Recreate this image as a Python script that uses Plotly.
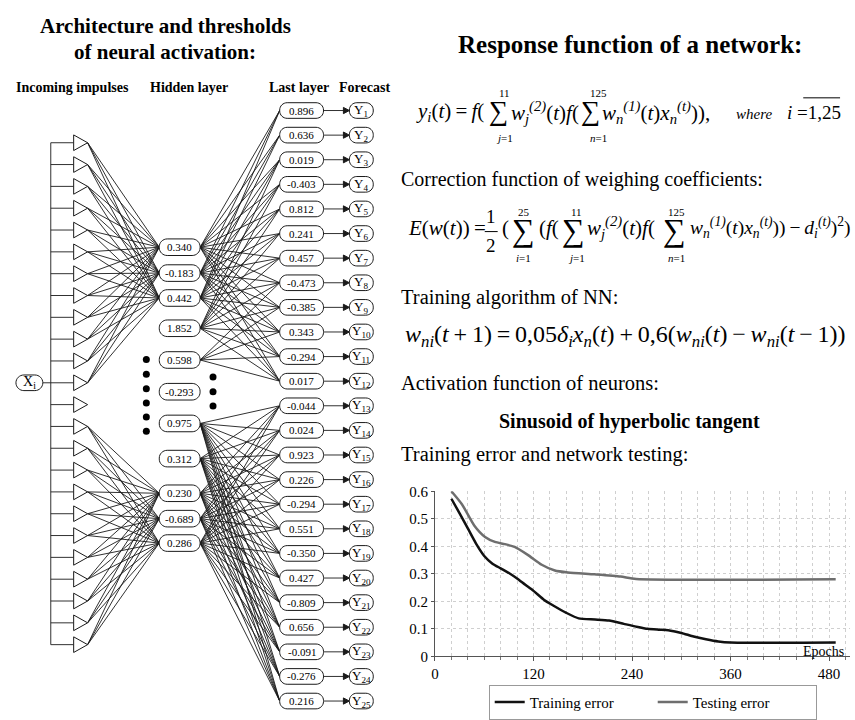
import plotly.graph_objects as go

W, H = 855, 720
FONT = "Liberation Serif, Times New Roman, Times, serif"
INK = "#1a1a1a"

# ---------------- data ----------------
# Activation thresholds of the hidden layer, top to bottom
hidden_thresholds = [0.340, -0.183, 0.442, 1.852, 0.598, -0.293, 0.975, 0.312, 0.230, -0.689, 0.286]
# Activation thresholds of the last layer, one per forecast output Y1..Y25
output_thresholds = [0.896, 0.636, 0.019, -0.403, 0.812, 0.241, 0.457, -0.473, -0.385, 0.343,
                     -0.294, 0.017, -0.044, 0.024, 0.923, 0.226, -0.294, 0.551, -0.350, 0.427,
                     -0.809, 0.656, -0.091, -0.276, 0.216]
forecast_labels = [f"Y<sub>{i}</sub>" for i in range(1, 26)]

# Training / testing error by epoch
train_epochs = [20, 30, 40, 50, 60, 70, 80, 90, 100, 110, 120, 133, 145, 160, 175, 195, 212, 230,
                245, 259, 272, 284, 300, 315, 330, 345, 360, 488]
train_error = [0.573, 0.52, 0.465, 0.41, 0.365, 0.337, 0.32, 0.303, 0.283, 0.26, 0.238, 0.205,
               0.183, 0.158, 0.138, 0.134, 0.13, 0.118, 0.108, 0.1, 0.097, 0.095, 0.085, 0.072,
               0.062, 0.054, 0.05, 0.05]
test_epochs = [20, 33, 48, 61, 73, 85, 97, 113, 130, 146, 162, 194, 226, 245, 488]
test_error = [0.6, 0.552, 0.475, 0.434, 0.416, 0.408, 0.398, 0.369, 0.333, 0.312, 0.305, 0.298,
              0.29, 0.281, 0.28]

x_ticks = [0, 120, 240, 360, 480]
y_ticks = [0, 0.1, 0.2, 0.3, 0.4, 0.5, 0.6]

# ---------------- diagram layout (pixel-like canvas on x2/y2) ----------------
N_INPUTS, IN_Y0, IN_STEP = 24, 138, 22.35
BUS_X, STUB_X, TRI_TIP, TRI_HALF = 47, 70, 84, 8
XI_ROW, EMPTY_ROW = 11, 12
HID_X, HID_W, HID_H = 176.5, 41, 17
hidden_y = [245, 271.5, 297, 328, 360.5, 393, 425.5, 461.5, 497, 523, 548]
OUT_X, OUT_W, OUT_H = 299, 44, 16
OUT_Y0, OUT_STEP = 105, 25.2
FC_X, FC_W, FC_H = 359, 24, 16

in_y = [IN_Y0 + IN_STEP * k for k in range(N_INPUTS)]
out_y = [OUT_Y0 + OUT_STEP * k for k in range(len(output_thresholds))]

# which inputs feed which hidden neurons, and hidden -> last layer links
in_links = {k: [0, 1, 2] for k in range(0, 12)}
in_links.update({k: [8, 9, 10] for k in range(13, N_INPUTS)})
hid_links = {0: range(0, 12), 1: range(0, 12), 2: range(0, 12), 3: range(2, 12),
             4: range(7, 12), 6: range(12, 25), 7: range(12, 25),
             8: range(12, 25), 9: range(12, 25), 10: range(12, 25)}


def rounded(cx, cy, w, h, r=None):
    r = h / 2 if r is None else r
    x0, x1, y0, y1 = cx - w / 2, cx + w / 2, cy - h / 2, cy + h / 2
    k = 0.5523 * r
    return (f"M{x0 + r},{y0} L{x1 - r},{y0} C{x1 - r + k},{y0} {x1},{y0 + r - k} {x1},{y0 + r} "
            f"L{x1},{y1 - r} C{x1},{y1 - r + k} {x1 - r + k},{y1} {x1 - r},{y1} "
            f"L{x0 + r},{y1} C{x0 + r - k},{y1} {x0},{y1 - r + k} {x0},{y1 - r} "
            f"L{x0},{y0 + r} C{x0},{y0 + r - k} {x0 + r - k},{y0} {x0 + r},{y0} Z")


fig = go.Figure()

# wiring
lx, ly = [], []
for k, targets in in_links.items():
    for j in targets:
        lx += [TRI_TIP, HID_X - HID_W / 2, None]
        ly += [in_y[k], hidden_y[j], None]
for j, targets in hid_links.items():
    for i in targets:
        lx += [HID_X + HID_W / 2, OUT_X - OUT_W / 2, None]
        ly += [hidden_y[j], out_y[i], None]
# input bus and stubs
lx += [BUS_X, BUS_X, None]
ly += [in_y[0], in_y[-1], None]
for y in in_y:
    lx += [BUS_X, STUB_X, None]
    ly += [y, y, None]
lx += [39, BUS_X, None]
ly += [in_y[XI_ROW], in_y[XI_ROW], None]
# arrows from the last layer to the forecasts
for y in out_y:
    lx += [OUT_X + OUT_W / 2, FC_X - FC_W / 2 - 5, None]
    ly += [y, y, None]
fig.add_trace(go.Scatter(x=lx, y=ly, mode="lines", line=dict(color=INK, width=0.9),
                         xaxis="x2", yaxis="y2", showlegend=False, hoverinfo="skip"))

# ellipsis dots
fig.add_trace(go.Scatter(x=[143] * 6 + [210] * 3,
                         y=[360, 375, 390, 404.5, 419, 433.5, 378, 393, 407.5],
                         mode="markers", marker=dict(color="black", size=7),
                         xaxis="x2", yaxis="y2", showlegend=False, hoverinfo="skip"))

shapes = []
annotations = []


def shape_path(p, fill="white"):
    shapes.append(dict(type="path", path=p, xref="x2", yref="y2", layer="above",
                       line=dict(color=INK, width=1), fillcolor=fill))


def put(x, y, text, size, anchor="left"):
    annotations.append(dict(x=x, y=y, xref="x2", yref="y2", text=text, showarrow=False,
                            xanchor=anchor, yanchor="middle",
                            font=dict(family=FONT, size=size, color="black")))


def sigma(cx, cy, size, lim_x, top, top_y, bottom, bottom_y):
    # summation sign with its limits above and below
    put(cx, cy, "∑", size, "center")
    put(lim_x, top_y, top, 11, "center")
    put(lim_x, bottom_y, bottom, 11, "center")


# triangles
for y in in_y:
    shape_path(f"M{STUB_X},{y - TRI_HALF} L{TRI_TIP},{y} L{STUB_X},{y + TRI_HALF} Z")
# input node
shape_path(rounded(25.5, in_y[XI_ROW], 27, 16))
put(25.5, in_y[XI_ROW], "X<sub>i</sub>", 14, "center")
# hidden layer
for v, y in zip(hidden_thresholds, hidden_y):
    shape_path(rounded(HID_X, y, HID_W, HID_H, 8))
    put(HID_X, y, f"{v:.3f}", 11, "center")
# last layer + forecasts
tip = FC_X - FC_W / 2
for v, y, lab in zip(output_thresholds, out_y, forecast_labels):
    shape_path(rounded(OUT_X, y, OUT_W, OUT_H, 7.5))
    put(OUT_X, y, f"{v:.3f}", 11, "center")
    shape_path(rounded(FC_X, y, FC_W, FC_H, 7.5))
    put(FC_X, y, lab, 13, "center")
    shape_path(f"M{tip - 6},{y - 3.2} L{tip},{y} L{tip - 6},{y + 3.2} Z", fill=INK)

# headings
put(162, 18, "<b>Architecture and thresholds</b>", 21, "center")
put(162, 45, "<b>of neural activation:</b>", 21, "center")
put(69, 81, "<b>Incoming impulses</b>", 14, "center")
put(186, 81, "<b>Hidden layer</b>", 14, "center")
put(296, 81, "<b>Last layer</b>", 14, "center")
put(362, 81, "<b>Forecast</b>", 14, "center")
put(629, 37, "<b>Response function of a network:</b>", 25, "center")

TS = "\u2009"  # thin space around operators
# response function
put(412, 107, f"<i>y<sub>i</sub></i>(<i>t</i>){TS}={TS}<i>f</i>(", 21)
sigma(497, 105, 27, 503, "11", 87, "<i>j</i>=1", 133)
put(507, 107, "<i>w<sub>j</sub><sup>(2)</sup></i>(<i>t</i>)<i>f</i>(", 21)
sigma(589, 105, 27, 597, "125", 87, "<i>n</i>=1", 133)
put(599, 107, "<i>w<sub>n</sub><sup>(1)</sup></i>(<i>t</i>)<i>x<sub>n</sub><sup>(<i>t</i>)</sup></i>)),", 21)
put(733, 109, "<i>where</i>", 15)
put(785, 107, "<i>i</i> =1,25", 19)
shapes.append(dict(type="line", x0=803, x1=840, y0=92, y1=92, xref="x2", yref="y2",
                   line=dict(color="black", width=1)))

put(397, 176, "Correction function of weighing coefficients:", 20)

# correction function
put(404, 225, f"<i>E</i>(<i>w</i>(<i>t</i>)){TS}=", 21)
put(489, 214, "1", 19, "center")
put(489, 243, "2", 19, "center")
shapes.append(dict(type="line", x0=483, x1=496, y0=229, y1=229, xref="x2", yref="y2",
                   line=dict(color="black", width=1)))
put(498, 225, "(", 21)
sigma(522, 227, 32, 522, "25", 209, "<i>i</i>=1", 256)
put(535, 225, "(<i>f</i>(", 21)
sigma(572, 227, 32, 575, "11", 209, "<i>j</i>=1", 256)
put(584, 225, "<i>w<sub>j</sub><sup>(2)</sup></i>(<i>t</i>)<i>f</i>(", 21)
sigma(674, 227, 32, 676, "125", 209, "<i>n</i>=1", 256)
put(687, 225, "<i>w<sub>n</sub><sup>(1)</sup></i>(<i>t</i>)<i>x<sub>n</sub><sup>(<i>t</i>)</sup></i>))"
              f"{TS}−{TS}<i>d<sub>i</sub><sup>(<i>t</i>)</sup></i>)<sup>2</sup>)", 19.5)

put(397, 296, "Training algorithm of NN:", 20.5)
put(401, 336, f"<i>w<sub>ni</sub></i>(<i>t</i>{TS}+{TS}1){TS}={TS}0,05<i>δ<sub>i</sub>x<sub>n</sub></i>(<i>t</i>)"
              f"{TS}+{TS}0,6(<i>w<sub>ni</sub></i>(<i>t</i>){TS}−{TS}<i>w<sub>ni</sub></i>(<i>t</i>{TS}−{TS}1))", 24)
put(397, 384, "Activation function of neurons:", 20.5)
put(628, 423, "<b>Sinusoid of hyperbolic tangent</b>", 20, "center")
put(397, 457, "Training error and network testing:", 20.5)
put(823, 659, "Epochs", 14, "center")

# ---------------- error chart ----------------
fig.add_trace(go.Scatter(x=train_epochs, y=train_error, mode="lines", name="Training error",
                         line=dict(color="#111111", width=2.5, shape="spline", smoothing=0.6)))
fig.add_trace(go.Scatter(x=test_epochs, y=test_error, mode="lines", name="Testing error",
                         line=dict(color="#6e6e6e", width=2.5, shape="spline", smoothing=0.6)))

PX_PER_EPOCH = 0.825
fig.update_layout(
    width=W, height=H, margin=dict(l=0, r=0, t=0, b=0),
    paper_bgcolor="white", plot_bgcolor="rgba(0,0,0,0)",
    font=dict(family=FONT, color="black"),
    shapes=shapes, annotations=annotations,
    xaxis=dict(domain=[433 / W, 850 / W], range=[0, (850 - 433) / PX_PER_EPOCH],
               tickvals=x_ticks, ticks="outside", ticklen=4, tickcolor="#555",
               showline=True, linecolor="#555", linewidth=1,
               showgrid=True, gridcolor="#cfcfcf", griddash="dot", gridwidth=1,
               minor=dict(dtick=20, tick0=0, showgrid=True, gridcolor="#cfcfcf", griddash="dot",
                          ticks="outside", ticklen=3, tickcolor="#777"),
               tickfont=dict(size=15, family=FONT), zeroline=False, anchor="y"),
    yaxis=dict(domain=[(H - 664) / H, (H - 495) / H], range=[0, 0.6],
               tickvals=y_ticks, ticktext=["0", "0.1", "0.2", "0.3", "0.4", "0.5", "0.6"],
               ticks="outside", ticklen=3, tickcolor="#555",
               showline=True, linecolor="#555", linewidth=1,
               showgrid=True, gridcolor="#cfcfcf", griddash="dot",
               tickfont=dict(size=15, family=FONT), zeroline=False, anchor="x"),
    xaxis2=dict(domain=[0, 1], range=[0, W], visible=False, anchor="y2"),
    yaxis2=dict(domain=[0, 1], range=[H, 0], visible=False, anchor="x2"),
    legend=dict(orientation="h", x=487 / W, xanchor="left", y=-9 / H, yanchor="bottom",
                bordercolor="#999", borderwidth=1, font=dict(size=15, family=FONT),
                entrywidth=118, entrywidthmode="pixels", bgcolor="white"),
    showlegend=True,
)

fig.write_html("out.html")
